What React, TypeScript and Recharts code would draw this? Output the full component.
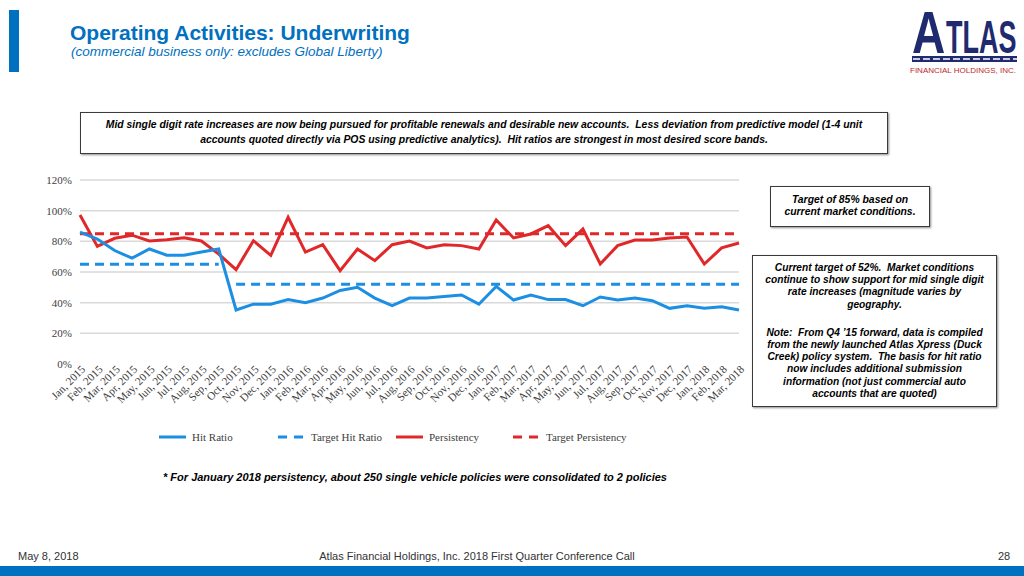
import React from 'react'
import { LineChart, Line, XAxis, YAxis, CartesianGrid } from 'recharts'

const months = [
  'Jan, 2015', 'Feb, 2015', 'Mar, 2015', 'Apr, 2015', 'May, 2015', 'Jun, 2015',
  'Jul, 2015', 'Aug, 2015', 'Sep, 2015', 'Oct, 2015', 'Nov, 2015', 'Dec, 2015',
  'Jan, 2016', 'Feb, 2016', 'Mar, 2016', 'Apr, 2016', 'May, 2016', 'Jun, 2016',
  'Jul, 2016', 'Aug, 2016', 'Sep, 2016', 'Oct, 2016', 'Nov, 2016', 'Dec, 2016',
  'Jan, 2017', 'Feb, 2017', 'Mar, 2017', 'Apr, 2017', 'May, 2017', 'Jun, 2017',
  'Jul, 2017', 'Aug, 2017', 'Sep, 2017', 'Oct, 2017', 'Nov, 2017', 'Dec, 2017',
  'Jan, 2018', 'Feb, 2018', 'Mar, 2018',
]

const hitRatio = [
  86, 81.5, 74, 69, 75, 71, 71, 73, 75, 35.2, 39, 39,
  42, 40, 43, 48, 50, 43, 38, 43, 43, 44, 45, 39,
  50.6, 41.7, 45, 42, 42, 38, 43.7, 41.7, 43, 41.3, 36.3, 38,
  36.3, 37.4, 35.2,
]

const persistency = [
  97.2, 76.7, 82, 84, 80.2, 81, 82.4, 80.2, 71.7, 61.5, 80.4, 70.9,
  95.7, 73, 77.8, 60.9, 75, 67.4, 77.8, 80.2, 75.7, 77.8, 77.2, 75,
  93.9, 82.2, 84.8, 90.2, 77.2, 88, 65.2, 77.2, 80.9, 80.9, 82.2, 82.8,
  65.2, 75.7, 78.9,
]

// target hit ratio changed in Q4 '15 (new policy system), so two segments
const targetHitOld = [
  65, 65, 65, 65, 65, 65, 65, 65, 65, null, null, null,
  null, null, null, null, null, null, null, null, null, null, null, null,
  null, null, null, null, null, null, null, null, null, null, null, null,
  null, null, null,
]
const targetHitNew = [
  null, null, null, null, null, null, null, null, null, 52, 52, 52,
  52, 52, 52, 52, 52, 52, 52, 52, 52, 52, 52, 52,
  52, 52, 52, 52, 52, 52, 52, 52, 52, 52, 52, 52,
  52, 52, 52,
]
const targetPersistency = [
  85, 85, 85, 85, 85, 85, 85, 85, 85, 85, 85, 85,
  85, 85, 85, 85, 85, 85, 85, 85, 85, 85, 85, 85,
  85, 85, 85, 85, 85, 85, 85, 85, 85, 85, 85, 85,
  85, 85, 85,
]

const yTicks = [0, 20, 40, 60, 80, 100, 120]

const BLUE = '#1C8FE3'
const RED = '#E0282A'
const NAVY = '#1F2B6E'
const SANS = '"Liberation Sans", Arial, sans-serif'
const SERIF = '"Liberation Serif", "Times New Roman", serif'

const data = months.map((m, i) => ({
  month: m,
  hit: hitRatio[i],
  tgtHitA: targetHitOld[i],
  tgtHitB: targetHitNew[i],
  pers: persistency[i],
  tgtPers: targetPersistency[i],
}))

const legendItems = [
  { name: 'Hit Ratio', color: BLUE, dashed: false, left: 159 },
  { name: 'Target Hit Ratio', color: BLUE, dashed: true, left: 278 },
  { name: 'Persistency', color: RED, dashed: false, left: 396 },
  { name: 'Target Persistency', color: RED, dashed: true, left: 513 },
]

const MonthTick = (props: any) => {
  const { x, y, payload } = props
  return (
    <g transform={`translate(${x + 6},${y + 6})`}>
      <text x={0} y={0} textAnchor="end" transform="rotate(-45)" fill="#404040" fontSize={11.2} fontFamily={SERIF}>
        {payload.value}
      </text>
    </g>
  )
}

const boxStyle: React.CSSProperties = {
  position: 'absolute',
  boxSizing: 'border-box',
  border: '1px solid #3a3a3a',
  boxShadow: '1px 1px 2px rgba(0,0,0,0.45)',
  background: '#fff',
  textAlign: 'center',
  fontWeight: 'bold',
  fontStyle: 'italic',
  color: '#000',
}

export default function App() {
  return (
    <div style={{ position: 'fixed', left: 0, top: 0, width: 1024, height: 576, background: '#fff', overflow: 'hidden', fontFamily: SANS }}>
      {/* header */}
      <div style={{ position: 'absolute', left: 9, top: 10, width: 10, height: 62, background: '#0070C0' }} />
      <div style={{ position: 'absolute', left: 70, top: 22, fontSize: 21, lineHeight: '21px', fontWeight: 'bold', color: '#0070C0', whiteSpace: 'nowrap' }}>
        Operating Activities: Underwriting
      </div>
      <div style={{ position: 'absolute', left: 71, top: 45, fontSize: 13.5, lineHeight: '13.5px', fontStyle: 'italic', color: '#0070C0', whiteSpace: 'nowrap' }}>
        (commercial business only: excludes Global Liberty)
      </div>

      {/* logo */}
      <svg width={124} height={80} style={{ position: 'absolute', left: 900, top: 0 }}>
        <g transform="translate(12,53) scale(1,1.3)">
          <text x={0} y={0} fontSize={46} fontWeight="bold" fontFamily={SANS} fill={NAVY}>A</text>
        </g>
        <g transform="translate(46,53) scale(1,1.7)">
          <text x={0} y={0} fontSize={27} fontWeight="bold" fontFamily={SANS} fill={NAVY}>TLAS</text>
        </g>
        <rect x={12} y={56} width={105} height={6} fill={NAVY} />
        <line x1={13} y1={59} x2={117} y2={59} stroke="#fff" strokeWidth={1.3} strokeDasharray="7 3" />
        <text x={10} y={73} fontSize={8} fontFamily={SANS} fill="#C0282D">FINANCIAL HOLDINGS, INC.</text>
      </svg>

      {/* top comment box */}
      <div style={{ ...boxStyle, left: 80, top: 112, width: 808, height: 42, fontSize: 10.4, lineHeight: '15px', paddingTop: 4 }}>
        Mid single digit rate increases are now being pursued for profitable renewals and desirable new accounts.&nbsp; Less deviation from predictive model (1-4 unit
        <br />
        accounts quoted directly via POS using predictive analytics).&nbsp; Hit ratios are strongest in most desired score bands.
      </div>

      <div style={{ position: 'absolute', left: 0, top: 170 }}>
        <LineChart width={760} height={254} data={data} margin={{ top: 10, right: 21, left: 0, bottom: 0 }}>
          <CartesianGrid vertical={false} stroke="#D9D9D9" strokeWidth={1.5} horizontalValues={[20, 40, 60, 80, 100, 120]} />
          <XAxis dataKey="month" interval={0} height={60} axisLine={false} tickLine={false} tickSize={0} tickMargin={0} tick={<MonthTick />} />
          <YAxis
            width={80}
            domain={[0, 120]}
            ticks={yTicks}
            tickFormatter={(v: number) => `${v}%`}
            axisLine={false}
            tickLine={false}
            tickSize={0}
            tickMargin={8}
            tick={{ fill: '#404040', fontSize: 11, fontFamily: SERIF }}
          />
          <Line dataKey="tgtHitA" stroke={BLUE} strokeWidth={3} strokeDasharray="9 6" dot={false} isAnimationActive={false} />
          <Line dataKey="tgtHitB" stroke={BLUE} strokeWidth={3} strokeDasharray="9 6" dot={false} isAnimationActive={false} />
          <Line dataKey="tgtPers" stroke={RED} strokeWidth={3} strokeDasharray="9 6" dot={false} isAnimationActive={false} />
          <Line dataKey="pers" stroke={RED} strokeWidth={3} dot={false} isAnimationActive={false} />
          <Line dataKey="hit" stroke={BLUE} strokeWidth={3} dot={false} isAnimationActive={false} />
        </LineChart>
      </div>

      {/* legend */}
      {legendItems.map((it) => (
        <div key={it.name} style={{ position: 'absolute', left: it.left, top: 429, height: 16, display: 'flex', alignItems: 'center', whiteSpace: 'nowrap' }}>
          <svg width={27} height={6}>
            <line x1={0} y1={3} x2={27} y2={3} stroke={it.color} strokeWidth={3} strokeDasharray={it.dashed ? '9 7' : undefined} />
          </svg>
          <span style={{ marginLeft: 6, fontFamily: SERIF, fontSize: 11, color: '#404040' }}>{it.name}</span>
        </div>
      ))}

      {/* right notes */}
      <div style={{ ...boxStyle, left: 770, top: 186, width: 160, height: 41, fontSize: 10.4, lineHeight: '12.3px', paddingTop: 7 }}>
        Target of 85% based on
        <br />
        current market conditions.
      </div>
      <div style={{ ...boxStyle, left: 752, top: 255, width: 245, height: 152, fontSize: 10.2, lineHeight: '12.2px', paddingTop: 6 }}>
        Current target of 52%.&nbsp; Market conditions
        <br />
        continue to show support for mid single digit
        <br />
        rate increases (magnitude varies by
        <br />
        geography.
        <div style={{ height: 16 }} />
        Note:&nbsp; From Q4 ’15 forward, data is compiled
        <br />
        from the newly launched Atlas Xpress (Duck
        <br />
        Creek) policy system.&nbsp; The basis for hit ratio
        <br />
        now includes additional submission
        <br />
        information (not just commercial auto
        <br />
        accounts that are quoted)
      </div>

      <div style={{ position: 'absolute', left: 115, width: 600, top: 471, textAlign: 'center', fontSize: 11, fontWeight: 'bold', fontStyle: 'italic', whiteSpace: 'nowrap' }}>
        * For January 2018 persistency, about 250 single vehicle policies were consolidated to 2 policies
      </div>

      {/* footer */}
      <div style={{ position: 'absolute', left: 18, top: 550, fontSize: 11, color: '#333' }}>May 8, 2018</div>
      <div style={{ position: 'absolute', left: 177, width: 600, top: 550, fontSize: 11, color: '#333', textAlign: 'center' }}>
        Atlas Financial Holdings, Inc. 2018 First Quarter Conference Call
      </div>
      <div style={{ position: 'absolute', left: 998, top: 550, fontSize: 11, color: '#333' }}>28</div>
      <div style={{ position: 'absolute', left: 0, top: 566, width: 1024, height: 10, background: '#0070C0' }} />
    </div>
  )
}
